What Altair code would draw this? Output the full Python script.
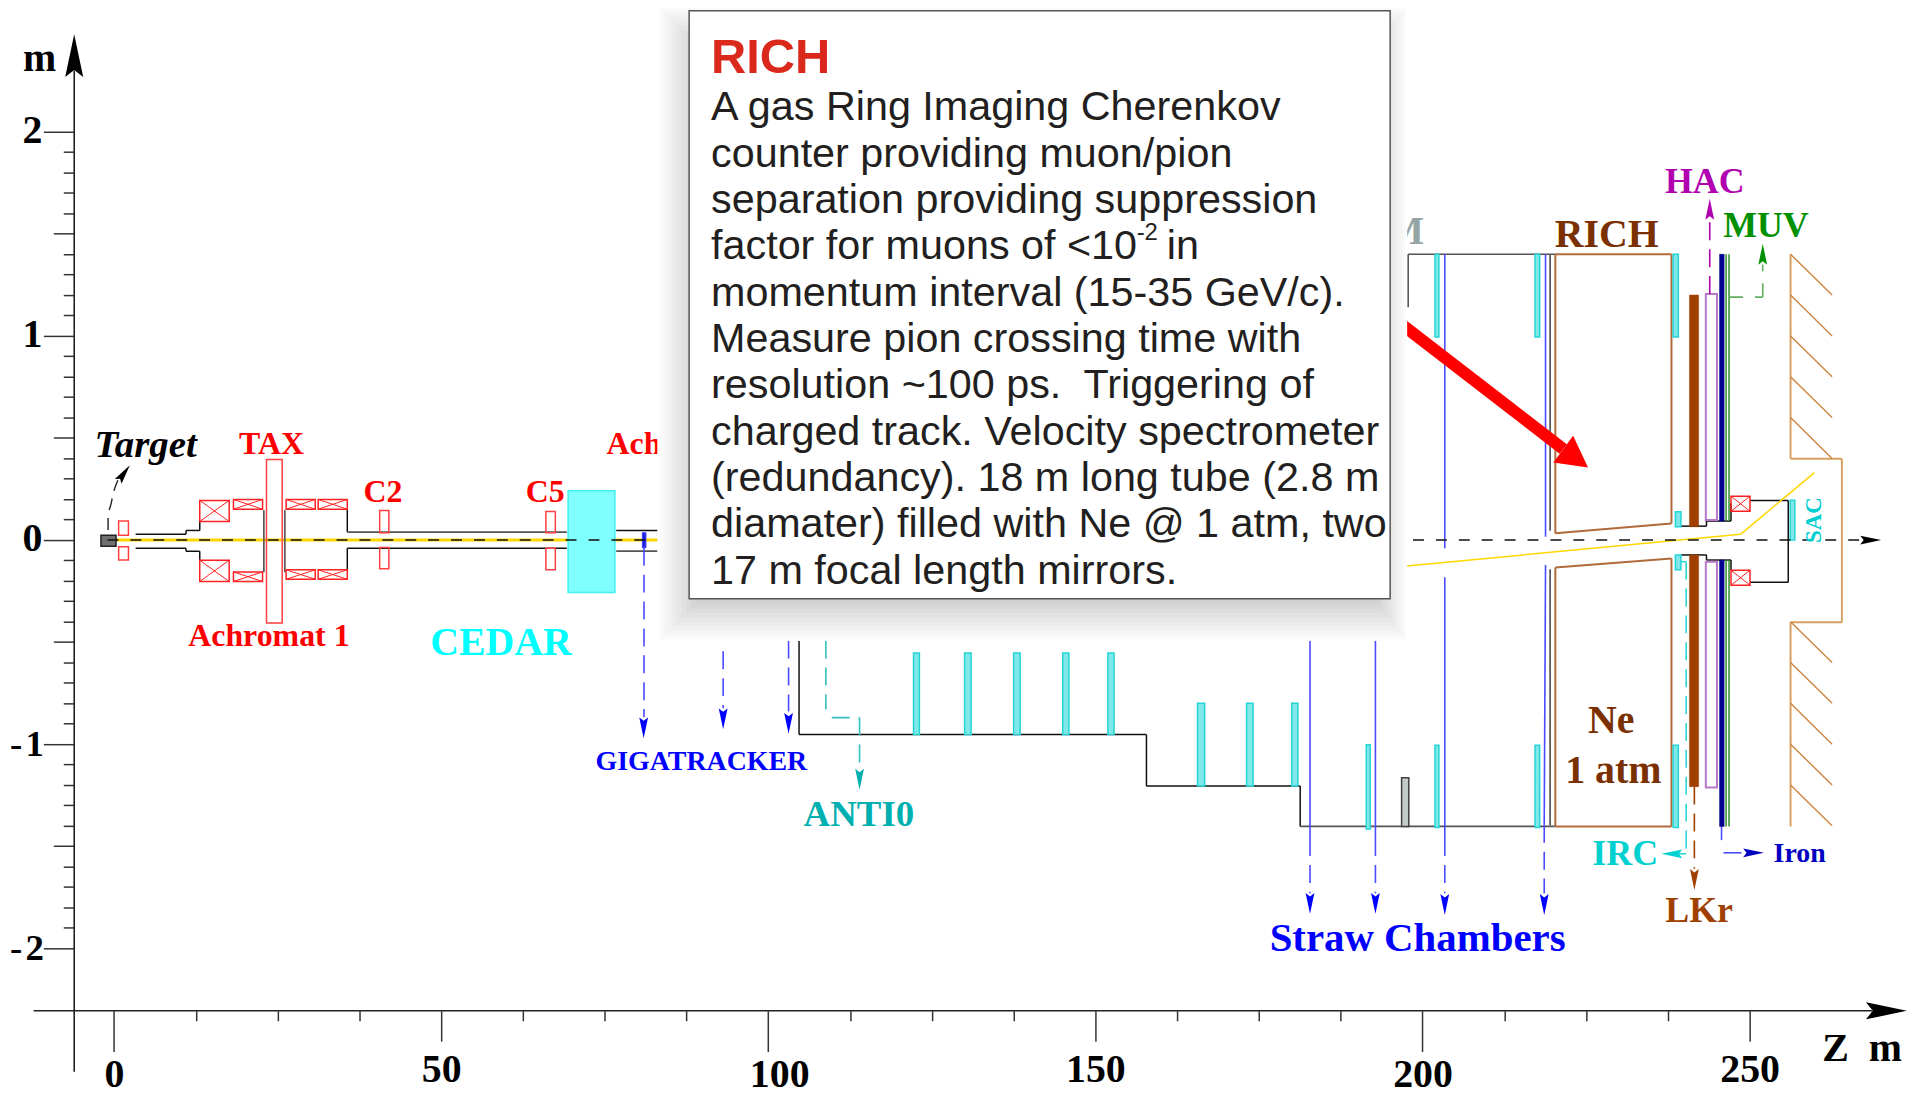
import altair as alt
import pandas as pd

# ---- frame: metres along the beam (z) and transverse (y)
Z_DOMAIN = [-16.21, 274.05]
Y_DOMAIN = [-2.722, 2.595]
W, H = 1907, 1090

# ---- axis ticks
X_EVEN = [0, 200]
X_ODD = [50, 150, 250]
X_SHIFTED = [100]
X_MINOR = [12.5, 25, 37.5, 62.5, 75, 87.5, 112.5, 125, 137.5, 162.5, 175, 187.5, 212.5, 225, 237.5]
Y_POSITIVE = [0, 1, 2]
Y_NEGATIVE = [-2, -1]
Y_MID = [-1.5, -0.5, 0.5, 1.5]
Y_MINOR = [v / 10 for v in range(-20, 21) if v % 5 != 0]

# ---- rectangles (z1, z2, y1, y2)
RED_BOXES = [(0.7, 2.2, .093, .024), (0.7, 2.2, -.033, -.098), (23.3, 25.7, .395, -.406),
             (40.6, 42.0, .145, .036), (40.6, 42.0, -.036, -.141),
             (66.0, 67.45, .14, .036), (66.0, 67.45, -.04, -.146)]
CROSS_BOXES = [(13.1, 17.6, .194, .091), (13.1, 17.6, -.099, -.203),
               (18.25, 22.7, .199, .151), (18.25, 22.7, -.156, -.203),
               (26.3, 30.75, .199, .151), (26.3, 30.75, -.146, -.192),
               (31.2, 35.65, .199, .151), (31.2, 35.65, -.146, -.192),
               (247.15, 250.05, .215, .141), (247.15, 250.05, -.148, -.221)]
CYAN_TUBES = [(122.2, 123.1, -.553, -.953), (130, 131, -.553, -.953), (137.5, 138.5, -.553, -.953),
              (145, 145.95, -.553, -.953), (151.9, 152.85, -.553, -.953),
              (165.6, 166.7, -.80, -1.205), (173.1, 174.1, -.80, -1.205), (180, 180.95, -.80, -1.205),
              (191.4, 192.0, -1.003, -1.415), (201.9, 202.5, -1.005, -1.408), (217.2, 217.9, -1.005, -1.408),
              (238.3, 239.1, -1.005, -1.408),
              (201.9, 202.5, 1.40, .995), (217.2, 217.9, 1.40, .995), (238.3, 239.1, 1.40, .995),
              (238.65, 239.5, .138, .065), (238.65, 239.5, -.073, -.146), (256.2, 256.9, .195, 0)]
CEDAR_BOX = [(69.4, 76.55, .242, -.257)]
TARGET_BOX = [(-2.0, 0.3, .023, -.03)]
GIGA_BOX = [(80.75, 81.3, .036, -.038)]
LKR_BARS = [(240.8, 242.2, 1.20, .065), (240.8, 242.2, -.073, -1.208)]
HAC_BOXES = [(243.3, 245.0, 1.205, .098), (243.3, 245.0, -.106, -1.212)]
IRON_BARS = [(245.4, 246.1, 1.40, .093), (245.4, 246.1, -.098, -1.403)]
GRAY_BLOCK = [(196.8, 197.9, -1.164, -1.403)]

# ---- solid lines (z1, y1, z2, y2)
BLACK_LINES = [(3.3, .028, 11, .028), (3.3, -.04, 11, -.04), (11, .028, 11, .047), (11, -.04, 11, -.055),
               (11, .047, 13.1, .047), (11, -.055, 13.1, -.055), (13.1, .047, 13.1, .093), (13.1, -.055, 13.1, -.1),
               (35.65, .151, 35.65, .039), (35.65, -.146, 35.65, -.04), (35.65, -.04, 69.2, -.04),
               (76.75, .047, 83.5, .047), (104.7, -.493, 104.7, -.953), (104.7, -.953, 157.8, -.953),
               (157.8, -.953, 157.8, -1.205), (157.8, -1.205, 181.3, -1.205), (181.3, -1.205, 181.3, -1.403),
               (239.5, .068, 243.4, .068), (243.4, .068, 243.4, .093), (243.4, .093, 247.15, .093),
               (247.15, .093, 247.15, .179), (250.05, .194, 255.9, .194), (255.9, .194, 255.9, -.207),
               (250.05, -.207, 255.9, -.207), (239.5, -.073, 243.4, -.073), (243.4, -.073, 243.4, -.098),
               (243.4, -.098, 247.15, -.098), (247.15, -.098, 247.15, -.148)]
GRAY_LINES = [(22.9, .146, 22.9, -.158), (26.1, .146, 26.1, -.158), (35.65, .039, 69.2, .039),
              (76.75, -.054, 83.5, -.054), (181.3, -1.403, 220.3, -1.403), (197.8, 1.40, 220.3, 1.40),
              (197.8, 1.40, 197.8, 1.14), (219.5, 1.40, 219.5, .045), (219.5, -.143, 219.5, -1.398)]
BROWN_LINES = [(220.3, 1.40, 220.3, .033), (220.3, .033, 238.05, .081), (238.05, .081, 238.05, 1.40),
               (220.3, 1.40, 238.05, 1.40), (220.3, -.135, 238.05, -.09), (220.3, -.135, 220.3, -1.403),
               (238.05, -.09, 238.05, -1.403), (220.3, -1.403, 238.05, -1.403)]
BLUE_LINES = [(203.4, 1.40, 203.4, -.04), (203.4, -.182, 203.4, -1.46), (218.8, 1.40, 218.8, .016),
              (218.8, -.122, 218.6, -1.395), (182.8, -.493, 182.8, -1.46), (192.8, -.493, 192.8, -1.46),
              (245.7, -1.403, 245.7, -1.47)]
GREEN_LINES = [(246.4, 1.40, 246.4, .093), (246.85, 1.40, 246.85, .093),
               (246.4, -.098, 246.4, -1.403), (246.85, -.098, 246.85, -1.403)]
ORANGE_WALL = [(256.25, 1.40, 256.25, .398), (256.25, .398, 264.1, .398), (264.1, .398, 264.1, -.403),
               (264.1, -.403, 256.25, -.403), (256.25, -.403, 256.25, -1.403)]
HATCH_TOPS = [1.40, 1.20, 1.0, .80, .60, -.40, -.60, -.80, -1.0, -1.2]
YELLOW_LINES = [(197.6, -.127, 248.6, .028), (248.6, .028, 259.9, .33)]
YELLOW_AXIS = [(0.3, 0, 83.5, 0)]
CYAN_HOOK = [(239.5, -.106, 240.3, -.106)]
AXIS_LINES = [(-6.09, 2.30, -6.09, -2.605), (-12.3, -2.306, 268.7, -2.306)]
RED_SHAFT = [(190, 1.225, 221.5, .446)]

# ---- dashed lines
DASH_BLUE = [(81, -.038, 81, -.868), (93.1, -.545, 93.1, -.824), (103.1, -.493, 103.1, -.84),
             (182.8, -1.46, 182.8, -1.73), (192.8, -1.46, 192.8, -1.73),
             (203.4, -1.46, 203.4, -1.73), (218.6, -1.395, 218.6, -1.73), (246, -1.532, 248.9, -1.532)]
DASH_TEAL = [(108.8, -.493, 108.8, -.83), (109.7, -.87, 113.95, -.87), (113.95, -.87, 113.95, -1.12)]
DASH_PURPLE = [(243.9, 1.205, 243.9, 1.57)]
DASH_GREEN = [(246.85, 1.19, 252, 1.19), (252, 1.19, 252, 1.35)]
DASH_BROWN = [(241.55, -1.208, 241.55, -1.61)]
DASH_CYAN = [(240.3, -.106, 240.3, -1.537), (240.3, -1.537, 238.5, -1.537)]
BEAM = [(-1, 0, 266.9, 0)]
TARGET_Z = [-0.91, -0.91, -0.44, -0.11, 0.58]
TARGET_Y = [.049, .112, .18, .229, .293]

# ---- arrow heads: z, y, length, clockwise angle, colour
HEADS = [(-6.09, 2.373, 43, 0, "#000000"), (270.9, -2.306, 41, 90, "#000000"), (268.5, 0, 21, 90, "#000000"),
         (1.52, .327, 20, 36, "#000000"),
         (80.95, -.92, 21, 180, "#0000FF"), (93.1, -.876, 21, 180, "#0000FF"), (103.1, -.898, 21, 180, "#0000FF"),
         (182.8, -1.78, 21, 180, "#0000FF"), (192.8, -1.78, 21, 180, "#0000FF"),
         (203.4, -1.785, 21, 180, "#0000FF"), (218.6, -1.785, 21, 180, "#0000FF"),
         (113.95, -1.172, 21, 180, "#00B0B0"), (243.9, 1.62, 21, 0, "#B000B0"), (252, 1.40, 21, 0, "#009000"),
         (241.55, -1.663, 21, 180, "#A04000"), (238.1, -1.537, 21, 270, "#00D0D0"), (250.6, -1.532, 21, 90, "#0000C0")]
RED_HEAD = [(223.4, .40, 31, 126.5, "#FF0000")]

# ---- labels: z of text start, y of baseline, text, colour, font size, angle
SERIF_LABELS = [
    ("TAX", 19.1, .42, "#FF0000", 32, 0), ("C2", 38.13, .184, "#FF0000", 32, 0), ("C5", 62.93, .185, "#FF0000", 32, 0),
    ("Ach", 75.27, .42, "#FF0000", 32, 0), ("Achromat 1", 11.34, -.52, "#FF0000", 32, 0),
    ("CEDAR", 48.33, -.564, "#00FFFF", 40, 0), ("GIGATRACKER", 73.6, -1.127, "#0000FF", 28, 0),
    ("ANTI0", 105.4, -1.401, "#00B0B0", 37, 0), ("Straw Chambers", 176.63, -2.013, "#0000FF", 41, 0),
    ("Ne", 225.3, -.943, "#7A3000", 40, 0), ("1 atm", 221.8, -1.192, "#7A3000", 40, 0),
    ("IRC", 225.95, -1.594, "#00D0D0", 36, 0), ("LKr", 237.1, -1.87, "#A04000", 36, 0),
    ("Iron", 253.65, -1.577, "#0000C0", 28, 0), ("HAC", 237.05, 1.702, "#B000B0", 36, 0),
    ("MUV", 245.95, 1.483, "#009000", 36, 0), ("RICH", 220.2, 1.436, "#7A3000", 40, 0),
    ("M", 194.5, 1.452, "#95A5A5", 40, 0), ("SAC", 260.96, -.015, "#00CED1", 23, 270),
    ("m", -13.93, 2.298, "#000000", 40, 0), ("Z", 261.1, -2.551, "#000000", 40, 0), ("m", 268.2, -2.551, "#000000", 40, 0),
]
ITALIC_LABELS = [("Target", -2.97, .405, "#000000", 39, 0)]

# ---- information panel
PANEL_TITLE = [("RICH", 91.25, 2.287, "#DA291C", 49, 0)]
PANEL_LINES = [
    ("A gas Ring Imaging Cherenkov", 2.056), ("counter providing muon/pion", 1.829),
    ("separation providing suppression", 1.602), ("factor for muons of <10", 1.375),
    ("momentum interval (15-35 GeV/c).", 1.148), ("Measure pion crossing time with", .921),
    ("resolution ~100 ps.\u00a0 Triggering of", .694), ("charged track. Velocity spectrometer", .467),
    ("(redundancy). 18 m long tube (2.8 m", .240), ("diamater) filled with Ne @ 1 atm, two", .013),
    ("17 m focal length mirrors.", -.214),
]
PANEL_EXTRAS = [("-2", 156.3, 1.468, "#231F20", 24, 0), ("in", 160.9, 1.375, "#231F20", 41.5, 0)]
PANEL_BOX = [(87.9, 195.05, 2.593, -.288)]
PANEL_MASK = [(83.03, 197.65, 2.595, -.493)]
SHADOW_OUT = (83.33, 197.5, 2.61, -.488)
SHADOW_IN = (89.4, 192.9, 2.415, -.293)
SHADOW_STEPS = 10

xs = alt.Scale(domain=Z_DOMAIN, nice=False, zero=False)
ys = alt.Scale(domain=Y_DOMAIN, nice=False, zero=False)
X = lambda f="a": alt.X(f"{f}:Q", scale=xs, axis=None)
Y = lambda f="b": alt.Y(f"{f}:Q", scale=ys, axis=None)


def rects(rows, fill, stroke, width=1.5):
    data = pd.DataFrame(rows, columns=["a", "a2", "b", "b2"])
    return alt.Chart(data).mark_rect(fill=fill, stroke=stroke, strokeWidth=width).encode(
        x=X(), x2="a2:Q", y=Y(), y2="b2:Q")


def lines(rows, color, width=1.5, dash=None):
    data = pd.DataFrame(rows, columns=["a", "b", "a2", "b2"])
    kw = {"strokeDash": dash} if dash else {}
    return alt.Chart(data).mark_rule(color=color, strokeWidth=width, **kw).encode(
        x=X(), y=Y(), x2="a2:Q", y2="b2:Q")


def heads(rows, path):
    data = pd.DataFrame(rows, columns=["a", "b", "l", "ang", "c"])
    data["s"] = data["l"] ** 2
    return alt.Chart(data).mark_point(shape=path, filled=True, opacity=1, strokeWidth=0).encode(
        x=X(), y=Y(), size=alt.Size("s:Q", scale=None), angle=alt.Angle("ang:Q", scale=None),
        color=alt.Color("c:N", scale=None))


def texts(rows, font, weight="bold", style="normal"):
    data = pd.DataFrame(rows, columns=["t", "a", "b", "c", "s", "ang"])
    return alt.Chart(data).mark_text(align="left", baseline="alphabetic", font=font, fontWeight=weight,
                                     fontStyle=style).encode(
        x=X(), y=Y(), text="t:N", size=alt.Size("s:Q", scale=None), angle=alt.Angle("ang:Q", scale=None),
        color=alt.Color("c:N", scale=None))


SERIF = "Liberation Serif"
SANS = "Liberation Sans"
TICK = "#333333"


def x_axis_layer(values, tick, pad, labels=True, shift=0):
    axis = alt.Axis(values=values, orient="bottom", offset=-85.3, tickSize=tick, tickWidth=1.5, tickColor=TICK,
                    domain=False, grid=False, labels=labels, labelFont=SERIF, labelFontWeight="bold",
                    labelFontSize=40, labelColor="#000000", labelPadding=pad, labelBaseline="alphabetic",
                    labelAngle=0, labelOffset=shift, labelOverlap=False, labelFlush=False, labelBound=False,
                    format="d", title=None)
    d = pd.DataFrame({"v": values})
    return alt.Chart(d).mark_rule(opacity=0).encode(x=alt.X("v:Q", scale=xs, axis=axis))


def y_axis_layer(values, tick, labels=False, size=40, pad=1.5):
    axis = alt.Axis(values=values, orient="left", offset=-66.5, tickSize=tick, tickWidth=1.5, tickColor=TICK,
                    domain=False, grid=False, labels=labels, labelFont=SERIF, labelFontWeight="bold",
                    labelFontSize=size, labelColor="#000000", labelPadding=pad, labelBaseline="alphabetic",
                    labelAlign="right", labelOffset=11, labelOverlap=False, labelFlush=False, labelBound=False,
                    labelExpr="datum.value < 0 ? '-\u200a' + abs(datum.value) : '' + datum.value", title=None)
    d = pd.DataFrame({"v": values})
    return alt.Chart(d).mark_rule(opacity=0).encode(y=alt.Y("v:Q", scale=ys, axis=axis))


cross_lines = [(a, b, a2, b2) for a, a2, b, b2 in CROSS_BOXES] + [(a, b2, a2, b) for a, a2, b, b2 in CROSS_BOXES]
hatch_lines = [(256.25, t, 262.6, t - .20) for t in HATCH_TOPS]

layers = [
    x_axis_layer(X_MINOR, 10, 0, labels=False),
    x_axis_layer(X_EVEN, 41, 35.3),
    x_axis_layer(X_ODD, 30.6, 40.7),
    x_axis_layer(X_SHIFTED, 41, 35.3, shift=11),
    y_axis_layer(Y_MINOR, 11),
    y_axis_layer(Y_MID, 21),
    y_axis_layer(Y_POSITIVE, 31, labels=True),
    y_axis_layer(Y_NEGATIVE, 31, labels=True, size=37, pad=0),
    lines(AXIS_LINES, "#222222", 1.6),
    lines(YELLOW_AXIS, "#FFD700", 3),
    rects(CEDAR_BOX, "#80FFFF", "#40F0F0"),
    lines(BLACK_LINES, "#111111", 1.5),
    lines(GRAY_LINES, "#555555", 1.7),
    lines(BROWN_LINES, "#B06A3C", 2),
    lines(BLUE_LINES, "#4A4AFF", 1.6),
    lines(GREEN_LINES, "#2E8B2E", 1.5),
    lines(ORANGE_WALL, "#D8A060", 2),
    lines(hatch_lines, "#CD8540", 1.4),
    lines(YELLOW_LINES, "#FFD700", 1.5),
    lines(CYAN_HOOK, "#30D5D5", 1.5),
    rects(RED_BOXES, "transparent", "#FF4040"),
    rects(CROSS_BOXES, "transparent", "#FF2020"),
    lines(cross_lines, "#FF2020", 1),
    rects(CYAN_TUBES, "#80E8E8", "#25D5D5"),
    rects(TARGET_BOX, "#707070", "#222222"),
    rects(GIGA_BOX, "#2020E0", "#4040FF", 1),
    rects(LKR_BARS, "#A04000", "#A04000", 0.5),
    rects(HAC_BOXES, "transparent", "#B878C8", 2),
    rects(IRON_BARS, "#000090", "#000090", 0.5),
    rects(GRAY_BLOCK, "#C2CACA", "#404040", 1.5),
    lines(DASH_BLUE, "#4A4AFF", 1.6, [18, 9]),
    lines(DASH_TEAL, "#30C0C0", 1.6, [18, 9]),
    lines(DASH_PURPLE, "#B000B0", 1.6, [18, 9]),
    lines(DASH_GREEN, "#60B060", 1.6, [14, 12]),
    lines(DASH_BROWN, "#A04000", 1.6, [18, 9]),
    lines(DASH_CYAN, "#30D5D5", 1.6, [18, 9]),
    lines(BEAM, "#111111", 1.6, [11, 12]),
    alt.Chart(pd.DataFrame({"a": TARGET_Z, "b": TARGET_Y, "o": list(range(len(TARGET_Z)))})).mark_line(
        color="#222222", strokeWidth=1.4, strokeDash=[12, 8], interpolate="monotone").encode(
        x=X(), y=Y(), order="o:Q"),
    heads(HEADS, "M0,-1L0.42,1L0,0.67L-0.42,1Z"),
    lines(RED_SHAFT, "#FF0000", 12),
    heads(RED_HEAD, "M0,-1L1.08,1L-1.08,1Z"),
    texts(SERIF_LABELS, SERIF),
    texts(ITALIC_LABELS, SERIF, style="italic"),
    rects(PANEL_MASK, "#FFFFFF", "transparent", 0),
]

# soft panel shadow, built up from translucent rectangles
for i in range(SHADOW_STEPS):
    f = i / (SHADOW_STEPS - 1)
    row = [tuple(o + (n - o) * f for o, n in zip(SHADOW_OUT, SHADOW_IN))]
    layers.append(alt.Chart(pd.DataFrame(row, columns=["a", "a2", "b", "b2"])).mark_rect(
        fill="#000000", opacity=0.02).encode(x=X(), x2="a2:Q", y=Y(), y2="b2:Q"))

layers += [
    rects(PANEL_BOX, "#FFFFFF", "#555555", 1.5),
    texts(PANEL_TITLE, SANS),
    texts([(t, 91.25, y, "#231F20", 41.5, 0) for t, y in PANEL_LINES] + PANEL_EXTRAS, SANS, weight="normal"),
]

chart = (alt.layer(*layers)
         .resolve_axis(x="independent", y="independent")
         .properties(width=W, height=H, padding=0, background="#FFFFFF",
                     autosize=alt.AutoSizeParams(type="none"))
         .configure_view(stroke=None))

chart.save("out.html", embed_options={"renderer": "svg", "actions": False})
